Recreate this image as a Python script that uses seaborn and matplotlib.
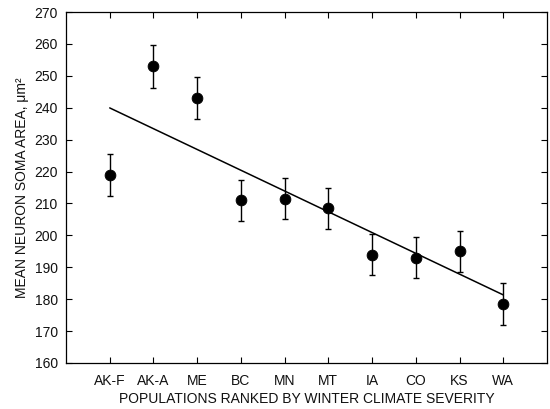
import matplotlib
matplotlib.use("Agg")
import matplotlib.pyplot as plt
import seaborn as sns
import numpy as np
import pandas as pd

populations = ["AK-F", "AK-A", "ME", "BC", "MN", "MT", "IA", "CO", "KS", "WA"]
mean_area = [219, 253, 243, 211, 211.5, 208.5, 194, 193, 195, 178.5]
err_area = [6.5, 6.7, 6.5, 6.5, 6.5, 6.5, 6.5, 6.5, 6.5, 6.5]
y_ticks = [160, 170, 180, 190, 200, 210, 220, 230, 240, 250, 260, 270]

sns.set_style("ticks")
plt.rcParams['font.family'] = ['Liberation Sans', 'DejaVu Sans']
plt.rcParams['text.color'] = '#111111'
plt.rcParams['axes.labelcolor'] = '#111111'

df = pd.DataFrame({"pos": np.arange(len(populations)), "area": mean_area, "err": err_area})

fig = plt.figure(figsize=(5.5, 4.09), dpi=100)
ax = fig.add_axes([0.12, 0.1125, 0.8745, 0.858])

sns.regplot(data=df, x="pos", y="area", ci=None, scatter=False, ax=ax,
            line_kws=dict(color="black", lw=1.1))
ax.errorbar(df["pos"], df["area"], yerr=df["err"], fmt="none", ecolor="black",
            elinewidth=1.0, capsize=2.5, capthick=1.0)
sns.scatterplot(data=df, x="pos", y="area", ax=ax, color="black", s=60,
                edgecolor="black", zorder=5)

ax.set_xlim(-1, 10)
ax.set_ylim(160, 270)
ax.set_xticks(df["pos"])
ax.set_xticklabels(populations)
ax.set_yticks(y_ticks)
ax.tick_params(direction="in", top=True, right=True, labelsize=10, length=4,
               width=0.8, colors="black", labelcolor="#111111", pad=6)
ax.tick_params(axis="x", pad=8)
ax.tick_params(labeltop=False, labelright=False)
for s in ax.spines.values():
    s.set_linewidth(0.9)
    s.set_color("black")
ax.set_xlabel("POPULATIONS RANKED BY WINTER CLIMATE SEVERITY", fontsize=10, labelpad=3)
ax.set_ylabel("MEAN NEURON SOMA AREA, μm²", fontsize=10, labelpad=4)

fig.savefig("out.png", dpi=100)
